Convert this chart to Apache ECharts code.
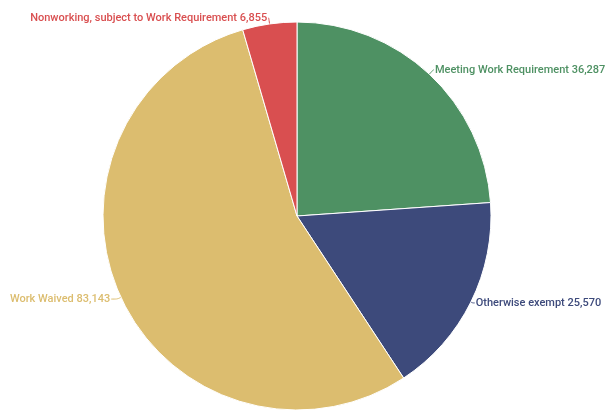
<!DOCTYPE html>
<html><head><meta charset="utf-8">
<script src="https://cdn.jsdelivr.net/npm/echarts@6/dist/echarts.min.js"></script>
<style>html,body{margin:0;padding:0;background:#fff}#c{width:608px;height:411px}</style>
</head><body><div id="c"></div>
<script>
const categories = ["Meeting Work Requirement", "Otherwise exempt", "Work Waived", "Nonworking, subject to Work Requirement"];
const values = [36287, 25570, 83143, 6855];
const colors = ["#4e9163", "#3d4a7b", "#dcbd6f", "#d94f50"];
const lineLen1 = [6, 2, 4, 6];
const lineLen2 = [0.5, 2, 6, 0.5];

const chart = echarts.init(document.getElementById('c'));
chart.setOption({
  animation: false,
  series: [{
    type: 'pie',
    center: [297, 216],
    radius: 194,
    startAngle: 90,
    clockwise: true,
    data: categories.map((n, i) => ({
      name: n, value: values[i],
      itemStyle: { color: colors[i] },
      label: { color: colors[i] },
      labelLine: {
        length: lineLen1[i],
        length2: lineLen2[i],
        lineStyle: { color: colors[i] }
      }
    })),
    itemStyle: { borderColor: '#fff', borderWidth: 1 },
    label: {
      fontFamily: 'Roboto', fontSize: 11, fontWeight: 500,
      overflow: 'none',
      formatter: p => p.name + ' ' + p.value.toLocaleString('en-US'),
      distanceToLabelLine: 1
    },
    labelLine: { smooth: true, lineStyle: { width: 1 } }
  }]
});
</script></body></html>
